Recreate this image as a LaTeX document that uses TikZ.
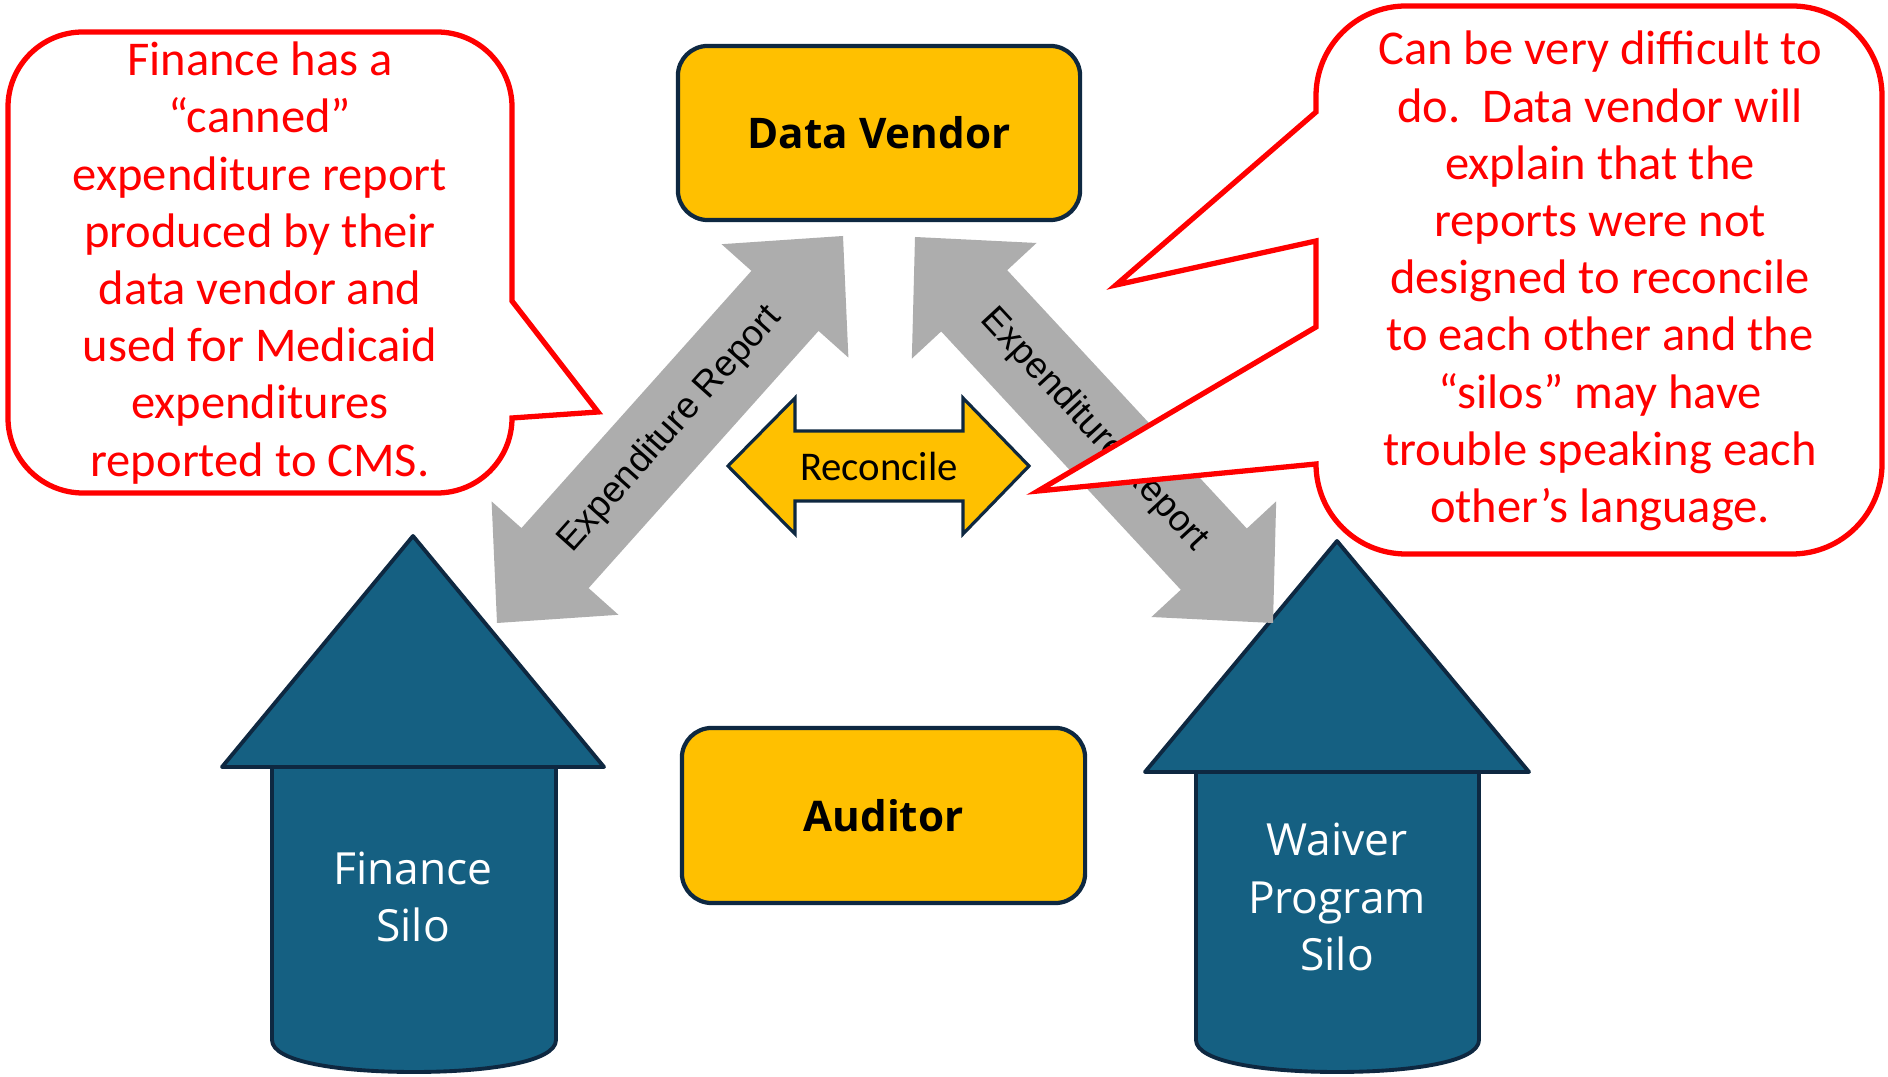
\documentclass[tikz,border=0pt]{standalone}
\usepackage{fontspec}
\setmainfont{Open Sans}
\newfontfamily\notefont{Carlito}
\newfontfamily\labelfont{Liberation Sans}
\usetikzlibrary{calc}

\definecolor{gold}{HTML}{FFC000}
\definecolor{navy}{HTML}{0E2841}
\definecolor{silo}{HTML}{156082}
\definecolor{arrowgray}{HTML}{ADADAD}
\definecolor{notered}{HTML}{FF0000}

\tikzset{
  silobody/.style={fill=silo, draw=navy, line width=1.1pt, line join=round},
  grayarrow/.style={fill=arrowgray, draw=none},
  rolebox/.style={draw=navy, fill=gold, line width=1.2pt, rounded corners=8.5pt,
    minimum width=4.02cm, minimum height=1.74cm, text=black,
    font=\bfseries\fontsize{12}{14}\selectfont},
  reconcilearrow/.style={fill=gold, draw=navy, line width=0.9pt, line join=miter},
  callout/.style={draw=notered, fill=white, line width=1.5pt, line join=miter},
  notetext/.style={text=notered, align=center, inner sep=0pt,
    font=\notefont\fontsize{13.8}{16.27}\selectfont},
  silotext/.style={text=white, align=center, inner sep=0pt,
    font=\fontsize{12.6}{16.3}\selectfont},
  reportlabel/.style={text=black, font=\labelfont\fontsize{10.4}{12}\selectfont},
}

% double-headed block arrow between two named tips
\newcommand\blockarrow[2]{%
  \coordinate (#1h) at ($(#1)!0.87cm!(#2)$);
  \coordinate (#2h) at ($(#2)!0.87cm!(#1)$);
  \fill[grayarrow] (#1)
    -- ($(#1h)!0.85cm!90:(#2)$) -- ($(#1h)!0.45cm!90:(#2)$)
    -- ($(#2h)!0.45cm!90:(#2)$) -- ($(#2h)!0.85cm!90:(#2)$)
    -- (#2)
    -- ($(#2h)!0.85cm!-90:(#2)$) -- ($(#2h)!0.45cm!-90:(#2)$)
    -- ($(#1h)!0.45cm!-90:(#2)$) -- ($(#1h)!0.85cm!-90:(#2)$)
    -- cycle;
}

\begin{document}
\begin{tikzpicture}[x=0.01cm, y=-0.01cm]
\fill[white] (0,0) rectangle (1888,1077);
\useasboundingbox (0,0) rectangle (1888,1077);

% ---- silos ----
\draw[silobody] (272,767) -- (272,1040)
  .. controls (272,1062) and (340,1072) .. (414,1072)
  .. controls (488,1072) and (556,1062) .. (556,1040) -- (556,767);
\draw[silobody] (413,536) -- (604,767) -- (222,767) -- cycle;
\node[silotext] (finsilo) at (413,897) {Finance\\Silo};

\draw[silobody] (1196,772) -- (1196,1040)
  .. controls (1196,1062) and (1264,1072) .. (1337,1072)
  .. controls (1411,1072) and (1479,1062) .. (1479,1040) -- (1479,772);
\draw[silobody] (1337,541) -- (1529,772) -- (1145,772) -- cycle;
\node[silotext] (waisilo) at (1337,897) {Waiver\\Program\\Silo};

% ---- expenditure report arrows ----
\coordinate (LA) at (497,623);
\coordinate (LB) at (843,236);
\coordinate (RA) at (915,237);
\coordinate (RB) at (1273,623);
\blockarrow{LA}{LB}
\blockarrow{RA}{RB}
\path (LA) -- node[reportlabel, sloped] (leftlabel) {Expenditure Report} (LB);
\path (RA) -- node[reportlabel, sloped] (rightlabel) {Expenditure Report} (RB);

% ---- data vendor and auditor ----
\node[rolebox] (vendor) at (879,133) {Data Vendor};
\node[rolebox, minimum width=4.03cm, minimum height=1.75cm] (auditor) at (883.5,815.5) {Auditor};

% ---- reconcile arrow ----
\draw[reconcilearrow] (728,466) -- (795,398) -- (795,431) -- (963,431) -- (963,398)
  -- (1029,466) -- (963,534) -- (963,501) -- (795,501) -- (795,534) -- cycle;
\node[font=\notefont\fontsize{11.6}{14}\selectfont] (reconcile) at (879,466) {Reconcile};

% ---- callouts ----
\draw[callout] (83,32) -- (437,32) arc[start angle=270, end angle=360, radius=75]
  -- (512,301) -- (598,412) -- (512,418)
  arc[start angle=0, end angle=90, radius=75]
  -- (83,493) arc[start angle=90, end angle=180, radius=75]
  -- (8,107) arc[start angle=180, end angle=270, radius=75] -- cycle;
\node[notetext] (leftnote) at (260,263)
  {Finance has a\\“canned”\\expenditure report\\produced by their\\data vendor and\\used for Medicaid\\expenditures\\reported to CMS.};

\draw[callout] (1406,6) -- (1792,6) arc[start angle=270, end angle=360, radius=90]
  -- (1882,464) arc[start angle=0, end angle=90, radius=90]
  -- (1406,554) arc[start angle=90, end angle=180, radius=90]
  -- (1038,491) -- (1316,327) -- (1316,241) -- (1116,285) -- (1316,112)
  -- (1316,96) arc[start angle=180, end angle=270, radius=90] -- cycle;
\node[notetext] (rightnote) at (1600,281)
  {Can be very difficult to\\do.\ \ Data vendor will\\explain that the\\reports were not\\designed to reconcile\\to each other and the\\“silos” may have\\trouble speaking each\\other’s language.};
\end{tikzpicture}
\end{document}
